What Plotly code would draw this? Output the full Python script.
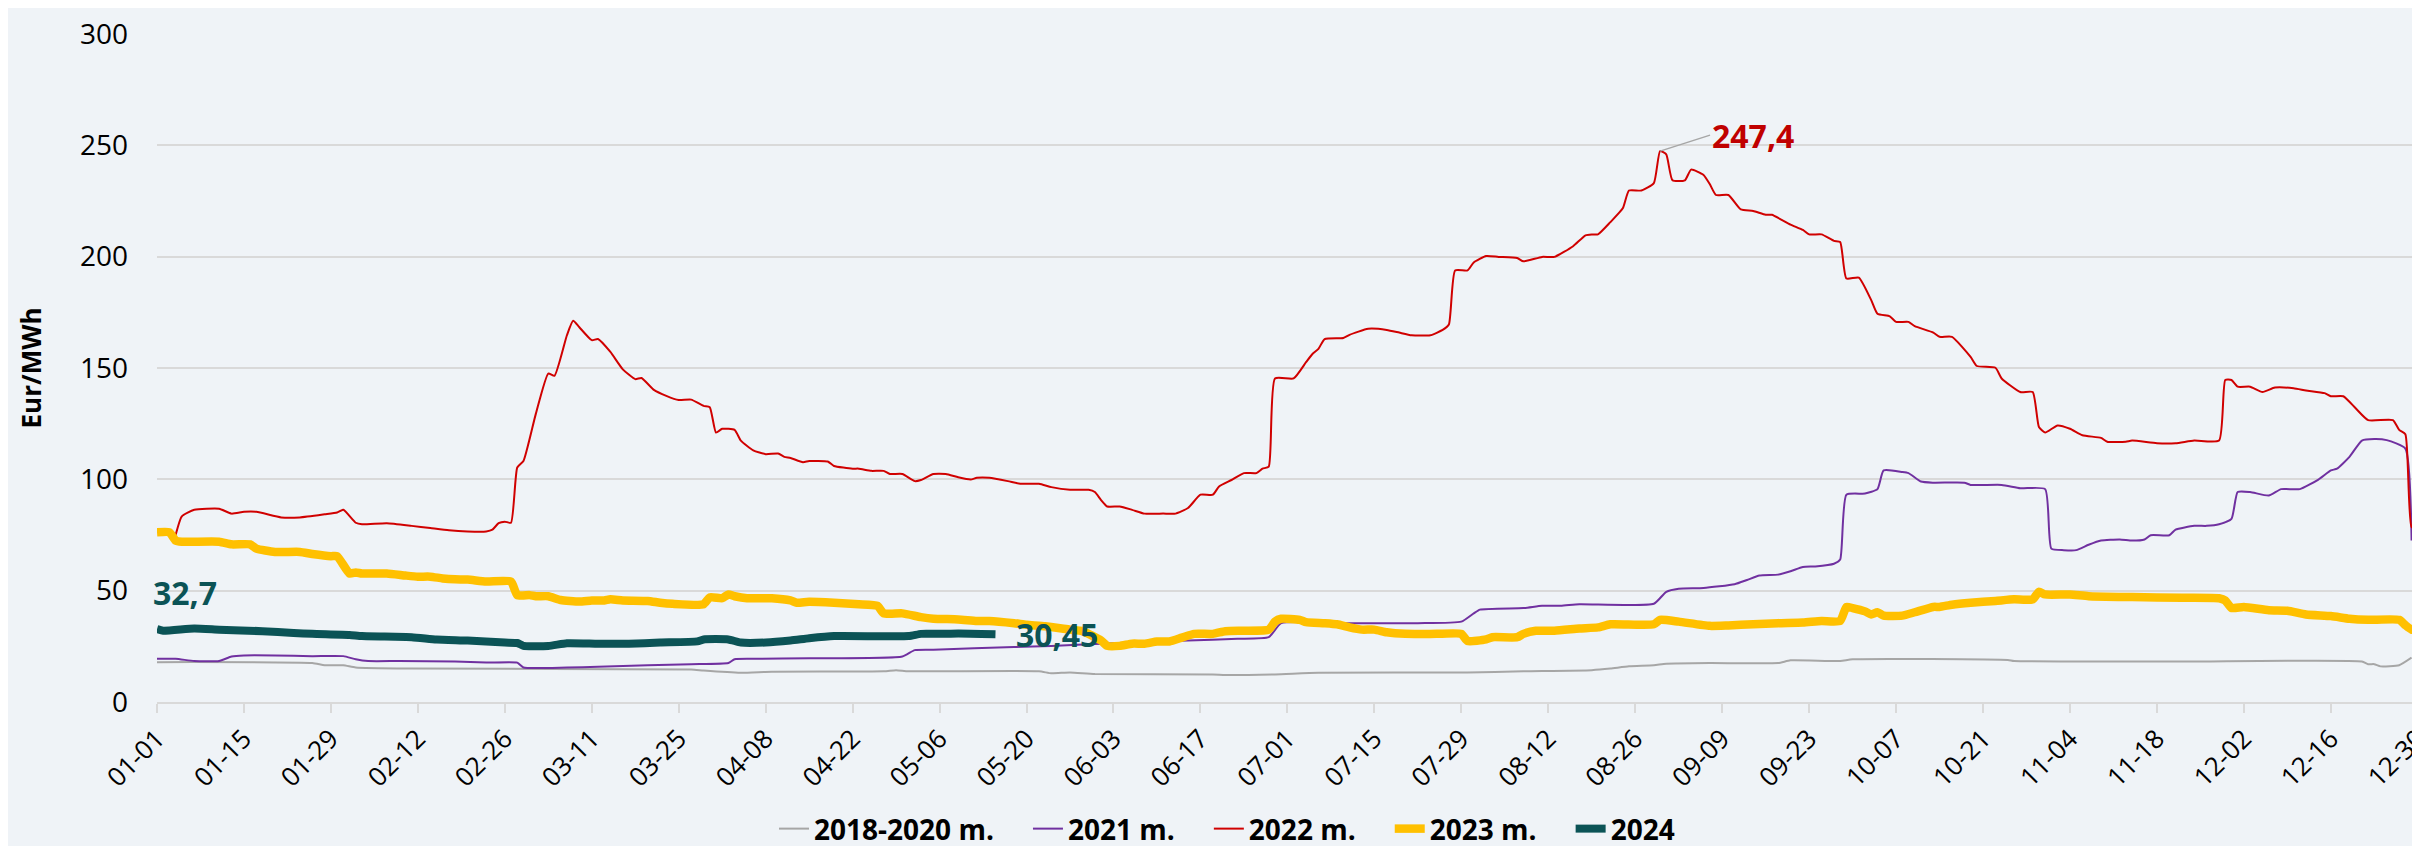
import pandas as pd
import plotly.graph_objects as go

# ---------------- categories ----------------
DATES = pd.date_range("2024-01-01", "2024-12-31").strftime("%m-%d").tolist()
TICK_LABELS = ["01-01", "01-15", "01-29", "02-12", "02-26", "03-11", "03-25", "04-08",
               "04-22", "05-06", "05-20", "06-03", "06-17", "07-01", "07-15", "07-29",
               "08-12", "08-26", "09-09", "09-23", "10-07", "10-21", "11-04", "11-18",
               "12-02", "12-16", "12-30"]
SERIES_NAMES = ["2018-2020 m.", "2021 m.", "2022 m.", "2023 m.", "2024"]

# ---------------- 2018-2020 m. ----------------
S1820_X = ["01-01", "01-26", "01-28", "01-31", "02-02", "02-11", "03-27", "03-29", "04-04",
           "04-09", "04-27", "04-29", "05-01", "05-22", "05-24", "05-27", "05-31", "06-19",
           "06-21", "06-29", "07-06", "07-30", "08-08", "08-19", "08-22", "08-25", "08-29",
           "08-31", "09-07", "09-18", "09-20", "09-28", "09-30", "10-25", "10-26", "11-22",
           "12-21", "12-22", "12-23", "12-24", "12-27", "12-29"]
S1820_Y = [17.9, 17.5, 16.5, 16.5, 15.5, 15.0, 14.6, 14.1, 13.1,
           13.6, 13.8, 14.3, 13.8, 13.8, 12.9, 13.3, 12.6, 12.4,
           12.1, 12.4, 13.1, 13.3, 13.8, 14.3, 15.0, 16.0, 16.5,
           17.2, 17.5, 17.5, 18.7, 18.4, 19.2, 18.9, 18.4, 18.2,
           18.2, 17.0, 17.0, 16.0, 16.5, 19.9]

# ---------------- 2021 m. ----------------
S2021_X = ["01-01", "01-04", "01-07", "01-11", "01-13", "01-15", "01-20", "01-26", "01-31",
           "02-02", "02-04", "02-09", "02-18", "02-23", "02-28", "02-29", "03-07", "03-12",
           "03-20", "03-27", "04-02", "04-03", "04-06", "04-15", "04-30", "05-02", "05-05",
           "05-18", "05-24", "06-03", "06-15", "06-23", "06-28", "06-30", "07-10", "07-22",
           "07-29", "07-31", "08-01", "08-08", "08-11", "08-14", "08-17", "08-29", "08-31",
           "09-02", "09-06", "09-11", "09-13", "09-15", "09-18", "09-20", "09-22", "09-24",
           "09-27", "09-28", "09-29", "10-02", "10-04", "10-05", "10-08", "10-09", "10-11",
           "10-13", "10-18", "10-19", "10-24", "10-27", "10-31", "11-01", "11-03", "11-05",
           "11-07", "11-09", "11-12", "11-14", "11-16", "11-17", "11-20", "11-21", "11-24",
           "11-26", "11-28", "11-30", "12-01", "12-03", "12-06", "12-08", "12-11", "12-14",
           "12-16", "12-17", "12-19", "12-21", "12-23", "12-25", "12-28", "12-29"]
S2021_Y = [19.4, 19.4, 18.4, 18.4, 20.4, 20.9, 20.9, 20.6, 20.6,
           19.2, 18.4, 18.4, 18.2, 17.7, 17.7, 15.5, 15.5, 15.8,
           16.5, 17.0, 17.5, 19.2, 19.4, 19.6, 20.4, 23.3, 23.5,
           24.7, 25.2, 26.4, 27.6, 28.4, 29.1, 35.4, 35.4, 35.4,
           36.1, 39.8, 41.5, 42.2, 43.2, 43.2, 43.9, 44.1, 49.5,
           50.9, 51.2, 52.9, 54.8, 56.8, 57.2, 58.7, 60.6, 60.9,
           62.1, 64.0, 93.1, 93.6, 95.6, 104.0, 103.3, 102.8, 99.0,
           98.5, 98.5, 97.5, 97.5, 96.0, 95.6, 68.9, 68.2, 68.2,
           70.6, 72.5, 73.0, 72.5, 73.0, 74.9, 74.9, 77.4, 79.1,
           79.1, 79.8, 82.2, 94.3, 94.3, 92.7, 95.6, 95.6, 99.9,
           104.0, 104.8, 110.1, 117.4, 118.1, 117.6, 113.8, 72.5]

# ---------------- 2022 m. ----------------
S2022_X = ["01-04", "01-05", "01-07", "01-11", "01-13", "01-15", "01-17", "01-21", "01-24",
           "01-28", "01-30", "01-31", "02-02", "02-03", "02-07", "02-11", "02-14", "02-17",
           "02-20", "02-23", "02-24", "02-25", "02-26", "02-27", "02-28", "02-29", "03-02",
           "03-04", "03-05", "03-07", "03-08", "03-09", "03-11", "03-12", "03-14", "03-16",
           "03-18", "03-19", "03-21", "03-23", "03-25", "03-27", "03-29", "03-30", "03-31",
           "04-01", "04-03", "04-04", "04-06", "04-08", "04-10", "04-11", "04-12", "04-14",
           "04-15", "04-18", "04-19", "04-22", "04-23", "04-25", "04-27", "04-28", "04-30",
           "05-02", "05-03", "05-05", "05-07", "05-09", "05-11", "05-12", "05-14", "05-17",
           "05-19", "05-22", "05-24", "05-27", "05-30", "05-31", "06-01", "06-02", "06-04",
           "06-06", "06-08", "06-11", "06-13", "06-15", "06-17", "06-19", "06-20", "06-22",
           "06-24", "06-26", "06-27", "06-28", "06-29", "07-02", "07-04", "07-05", "07-06",
           "07-07", "07-10", "07-11", "07-14", "07-17", "07-19", "07-21", "07-24", "07-26",
           "07-27", "07-28", "07-30", "07-31", "08-02", "08-04", "08-07", "08-08", "08-11",
           "08-13", "08-16", "08-18", "08-19", "08-20", "08-22", "08-24", "08-25", "08-27",
           "08-29", "08-30", "08-31", "09-01", "09-03", "09-04", "09-06", "09-07", "09-08",
           "09-10", "09-12", "09-14", "09-16", "09-17", "09-20", "09-22", "09-23", "09-25",
           "09-27", "09-28", "09-29", "10-01", "10-03", "10-04", "10-06", "10-07", "10-09",
           "10-10", "10-13", "10-14", "10-16", "10-19", "10-20", "10-23", "10-24", "10-27",
           "10-29", "10-30", "10-31", "11-02", "11-04", "11-06", "11-09", "11-10", "11-13",
           "11-14", "11-18", "11-21", "11-24", "11-28", "11-29", "11-30", "12-01", "12-03",
           "12-05", "12-07", "12-10", "12-12", "12-15", "12-16", "12-18", "12-20", "12-22",
           "12-26", "12-27", "12-28", "12-29", "12-30"]
S2022_Y = [75.0, 83.4, 86.3, 86.8, 84.6, 85.4, 85.4, 82.9, 82.9,
           84.3, 85.1, 86.3, 80.5, 79.8, 80.3, 79.1, 78.1, 77.1,
           76.6, 76.6, 77.4, 80.3, 81.0, 80.5, 105.3, 108.2, 129.5,
           147.5, 146.5, 164.7, 171.2, 168.3, 162.5, 163.0, 157.2, 149.4,
           145.0, 145.5, 140.2, 137.5, 135.6, 135.8, 133.0, 132.4, 121.0,
           122.7, 122.2, 117.4, 113.0, 111.3, 111.6, 110.1, 109.6, 107.7,
           108.2, 108.0, 106.0, 104.8, 104.8, 103.8, 103.8, 102.4, 102.4,
           99.2, 99.7, 102.4, 102.4, 100.9, 99.9, 100.7, 100.7, 99.2,
           98.0, 98.0, 96.5, 95.3, 95.3, 94.3, 90.7, 87.8, 87.8,
           86.3, 84.6, 84.6, 84.6, 87.1, 93.1, 93.1, 96.8, 99.7,
           102.8, 102.8, 104.8, 105.7, 145.3, 145.3, 152.6, 156.2, 158.6,
           163.0, 163.5, 164.9, 167.6, 167.1, 165.9, 164.7, 164.7, 167.1,
           169.5, 193.8, 193.8, 197.4, 200.3, 199.9, 199.4, 197.9, 199.9,
           199.9, 204.7, 209.6, 210.0, 210.0, 215.5, 221.7, 229.7, 229.7,
           233.0, 247.4, 245.9, 234.3, 234.3, 239.1, 236.7, 232.6, 227.7,
           227.7, 221.2, 220.5, 218.8, 218.8, 214.4, 212.0, 210.0, 210.0,
           207.1, 206.6, 190.2, 190.6, 180.5, 174.4, 173.2, 170.7, 170.7,
           168.8, 165.9, 164.0, 164.0, 155.0, 150.9, 150.1, 145.3, 139.2,
           139.2, 123.5, 121.0, 124.2, 122.7, 119.8, 118.6, 116.9, 116.9,
           117.4, 116.2, 116.2, 117.4, 117.4, 144.6, 144.6, 141.6, 141.6,
           139.2, 141.2, 140.9, 139.9, 138.7, 137.3, 137.3, 131.9, 126.6,
           126.6, 122.2, 120.3, 78.6, 78.1]

# ---------------- 2023 m. ----------------
S2023_X = ["01-01", "01-03", "01-04", "01-05", "01-11", "01-13", "01-16", "01-17", "01-20",
           "01-24", "01-26", "01-29", "01-30", "02-01", "02-02", "02-03", "02-07", "02-10",
           "02-12", "02-14", "02-16", "02-18", "02-20", "02-23", "02-27", "02-28", "03-01",
           "03-02", "03-04", "03-06", "03-09", "03-11", "03-13", "03-14", "03-16", "03-20",
           "03-22", "03-24", "03-29", "03-30", "04-01", "04-02", "04-03", "04-05", "04-09",
           "04-12", "04-13", "04-15", "04-19", "04-23", "04-26", "04-27", "04-30", "05-03",
           "05-05", "05-09", "05-12", "05-14", "05-18", "05-20", "05-23", "05-27", "05-29",
           "06-01", "06-02", "06-04", "06-06", "06-08", "06-10", "06-12", "06-14", "06-16",
           "06-19", "06-21", "06-24", "06-28", "06-29", "06-30", "07-03", "07-04", "07-07",
           "07-09", "07-11", "07-13", "07-15", "07-17", "07-20", "07-25", "07-29", "07-30",
           "08-02", "08-03", "08-07", "08-08", "08-10", "08-13", "08-17", "08-20", "08-22",
           "08-29", "08-30", "09-02", "09-07", "09-10", "09-14", "09-18", "09-22", "09-25",
           "09-28", "09-29", "09-30", "10-02", "10-03", "10-04", "10-05", "10-08", "10-10",
           "10-13", "10-14", "10-16", "10-19", "10-23", "10-26", "10-29", "10-30", "10-31",
           "11-04", "11-07", "11-14", "11-22", "11-28", "11-29", "11-30", "12-02", "12-06",
           "12-09", "12-12", "12-16", "12-19", "12-22", "12-27", "12-28", "12-29", "12-30"]
S2023_Y = [76.2, 76.2, 72.5, 72.0, 72.0, 70.8, 70.8, 68.9, 67.4,
           67.4, 66.5, 65.5, 65.5, 57.7, 58.2, 57.7, 57.7, 56.8,
           56.3, 56.3, 55.5, 55.1, 55.0, 54.1, 54.1, 48.0, 48.0,
           47.5, 47.5, 45.8, 45.1, 45.6, 45.6, 46.1, 45.6, 45.4,
           44.6, 44.1, 43.9, 47.0, 46.6, 48.3, 47.5, 46.6, 46.6,
           45.6, 44.6, 45.0, 44.6, 43.9, 43.2, 39.8, 39.8, 38.1,
           37.4, 37.1, 36.4, 36.4, 35.4, 34.7, 34.0, 32.5, 31.8,
           27.6, 25.2, 25.2, 26.2, 26.2, 27.2, 27.2, 28.9, 30.6,
           30.6, 31.8, 32.0, 32.5, 36.1, 37.4, 36.9, 35.9, 35.4,
           34.9, 33.5, 32.5, 32.5, 31.3, 30.6, 30.6, 30.6, 27.4,
           28.1, 29.1, 29.1, 30.6, 32.0, 32.0, 33.0, 33.5, 34.9,
           34.9, 36.9, 36.1, 34.2, 34.4, 34.9, 35.4, 35.7, 36.4,
           36.4, 42.7, 42.2, 40.7, 39.3, 40.3, 38.8, 38.8, 40.3,
           42.7, 42.7, 43.7, 44.6, 45.4, 46.1, 46.1, 49.5, 48.3,
           48.3, 47.5, 47.1, 46.8, 46.6, 45.6, 42.2, 42.7, 41.2,
           41.0, 39.3, 38.6, 37.4, 36.9, 36.9, 34.5, 32.5, 32.5]

# ---------------- 2024 ----------------
S2024_X = ["01-01", "01-02", "01-07", "01-11", "01-18", "01-23", "01-26", "02-01", "02-03",
           "02-11", "02-15", "02-20", "02-26", "02-28", "02-29", "03-04", "03-07", "03-12",
           "03-17", "03-22", "03-28", "03-29", "04-02", "04-04", "04-08", "04-12", "04-15",
           "04-19", "05-01", "05-03", "05-06", "05-09", "05-15"]
S2024_Y = [32.7, 32.0, 33.0, 32.5, 31.8, 31.0, 30.6, 30.1, 29.6,
           29.1, 28.1, 27.6, 26.7, 26.5, 25.2, 25.2, 26.4, 26.2,
           26.2, 26.7, 27.2, 28.1, 28.1, 26.7, 26.7, 27.6, 28.6,
           29.6, 29.6, 30.6, 30.6, 30.8, 30.45]

PEAK_LABEL = "247,4"
START_LABEL = "32,7"
END_LABEL = "30,45"

FONT = "Open Sans"
BG = "#EFF3F7"
GRID = "#D9D9D9"
C_GRAY = "#A6A6A6"
C_PURPLE = "#7030A0"
C_RED = "#D00000"
C_YELLOW = "#FFC000"
C_TEAL = "#0B5356"

SMOOTH = dict(shape="spline", smoothing=0.5)
PAD = "\u00a0" * 4  # extra room between legend entries


def legend_name(i):
    name = SERIES_NAMES[i]
    return name + PAD if i < len(SERIES_NAMES) - 1 else name


fig = go.Figure()
fig.add_trace(go.Scatter(x=S1820_X, y=S1820_Y, mode="lines", name=legend_name(0),
                         line=dict(color=C_GRAY, width=2, **SMOOTH)))
fig.add_trace(go.Scatter(x=S2021_X, y=S2021_Y, mode="lines", name=legend_name(1),
                         line=dict(color=C_PURPLE, width=2, **SMOOTH)))
fig.add_trace(go.Scatter(x=S2022_X, y=S2022_Y, mode="lines", name=legend_name(2),
                         line=dict(color=C_RED, width=2, **SMOOTH)))
fig.add_trace(go.Scatter(x=S2023_X, y=S2023_Y, mode="lines", name=legend_name(3),
                         line=dict(color=C_YELLOW, width=8.5, **SMOOTH)))
fig.add_trace(go.Scatter(x=S2024_X, y=S2024_Y, mode="lines", name=legend_name(4),
                         line=dict(color=C_TEAL, width=8, **SMOOTH)))

peak_i = S2022_Y.index(max(S2022_Y))
fig.add_annotation(x=S2022_X[peak_i], y=S2022_Y[peak_i], text=PEAK_LABEL,
                   showarrow=True, arrowhead=0, arrowwidth=1.5, arrowcolor=C_GRAY,
                   ax=50, ay=-16, xanchor="left", yanchor="middle",
                   font=dict(family=FONT, size=32, color="#C00000", weight="bold"))
fig.add_annotation(x=S2024_X[0], y=S2024_Y[0], text=START_LABEL, showarrow=False,
                   xanchor="left", yanchor="middle", xshift=-6, yshift=37,
                   font=dict(family=FONT, size=32, color=C_TEAL, weight="bold"))
fig.add_annotation(x=S2024_X[-1], y=S2024_Y[-1], text=END_LABEL, showarrow=False,
                   xanchor="left", yanchor="middle", xshift=19, yshift=0,
                   font=dict(family=FONT, size=32, color=C_TEAL, weight="bold"))

fig.update_layout(
    width=2420, height=846,
    margin=dict(l=149, r=4, t=26, b=152, autoexpand=False),
    paper_bgcolor=BG, plot_bgcolor=BG,
    font=dict(family=FONT, color="#000000"),
    showlegend=True,
    legend=dict(orientation="h", x=0.472, xanchor="center", y=-0.19, yanchor="middle",
                font=dict(family=FONT, size=28, color="#000000", weight="bold"),
                bgcolor="rgba(0,0,0,0)", traceorder="normal"),
    xaxis=dict(type="category", categoryorder="array", categoryarray=DATES,
               range=[0, 365], tickmode="array", tickvals=TICK_LABELS, ticktext=TICK_LABELS,
               tickangle=-45, ticks="outside", ticklen=9, tickwidth=2, tickcolor=GRID,
               showline=True, linecolor=GRID, linewidth=2, showgrid=False, zeroline=False,
               tickfont=dict(family=FONT, size=26, color="#000000"), automargin=False),
    yaxis=dict(range=[0, 300], dtick=50, tick0=0, showgrid=True, gridcolor=GRID, gridwidth=2,
               zeroline=False, showline=False, ticks="", ticklabelstandoff=28,
               tickfont=dict(family=FONT, size=28, color="#000000"), automargin=False,
               title=dict(text="Eur/MWh", standoff=30,
                          font=dict(family=FONT, size=26, color="#000000", weight="bold"))),
)

fig.write_html("out.html")
